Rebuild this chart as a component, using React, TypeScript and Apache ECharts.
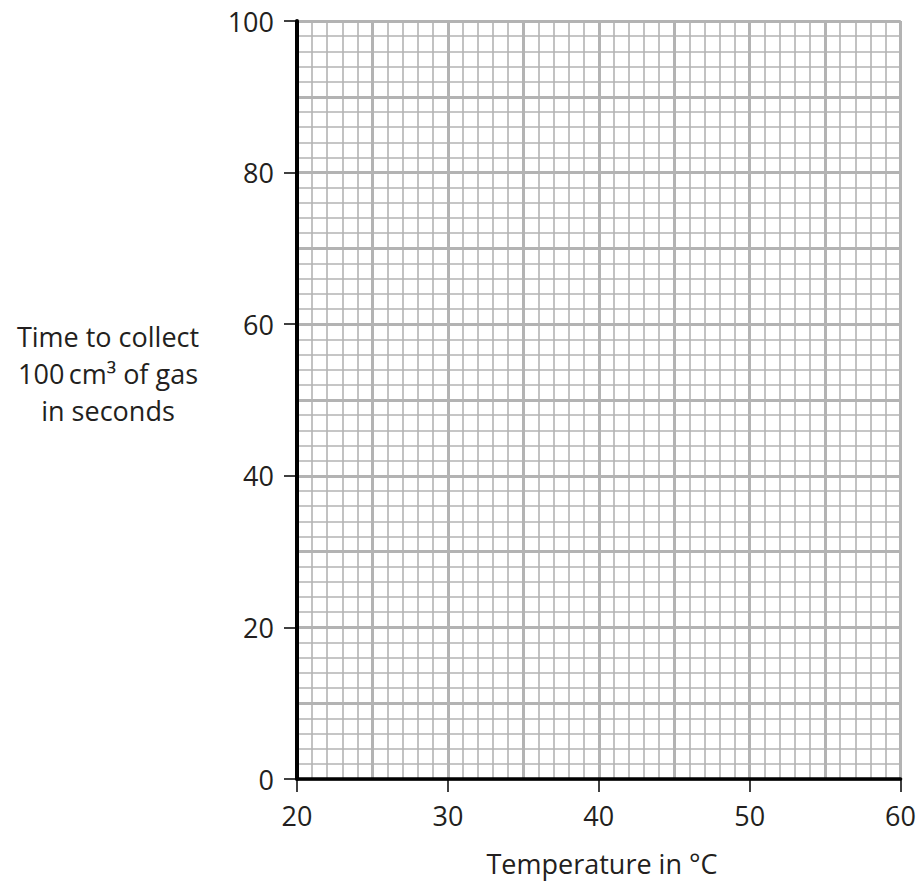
import React, { useEffect, useRef } from "react";
import * as echarts from "echarts";

const xRange = [20, 60];
const yRange = [0, 100];
const xMinorStep = 1;
const xMajorStep = 5;
const xLabelStep = 10;
const yMinorStep = 2;
const yMajorStep = 10;
const yLabelStep = 20;
const xTitle = "Temperature in °C";
const yTitleLines = ["Time to collect", "100\u2009cm³ of gas", "in seconds"];

const FONT = "Open Sans";
const TEXT = "#231f20";
const GRID = "#b3b3b3";
const FS = 27;

export default function App() {
  const ref = useRef<HTMLDivElement>(null);
  useEffect(() => {
    if (!ref.current) return;
    const chart = echarts.init(ref.current, null, { renderer: "svg" });
    const hidden = { show: false };
    const baseX = { type: "value", min: xRange[0], max: xRange[1], position: "bottom", gridIndex: 0 };
    const baseY = { type: "value", min: yRange[0], max: yRange[1], position: "left", gridIndex: 0 };
    chart.setOption({
      animation: false,
      grid: { left: 297, right: 18, top: 21, bottom: 108 },
      xAxis: [
        { ...baseX, interval: xMinorStep, axisLine: hidden, axisTick: hidden, axisLabel: hidden,
          splitLine: { show: true, lineStyle: { color: GRID, width: 1.6 } } },
        { ...baseX, interval: xMajorStep, axisLine: hidden, axisTick: hidden, axisLabel: hidden,
          splitLine: { show: true, lineStyle: { color: GRID, width: 3 } } },
        { ...baseX, interval: xLabelStep,
          axisLine: { show: true, lineStyle: { color: "#000", width: 3.5 } },
          axisTick: { show: true, length: 13, lineStyle: { color: "#000", width: 1.5 } },
          axisLabel: { show: true, fontFamily: FONT, fontSize: FS, color: TEXT, margin: 23 },
          splitLine: hidden },
      ],
      yAxis: [
        { ...baseY, interval: yMinorStep, axisLine: hidden, axisTick: hidden, axisLabel: hidden,
          splitLine: { show: true, lineStyle: { color: GRID, width: 1.6 } } },
        { ...baseY, interval: yMajorStep, axisLine: hidden, axisTick: hidden, axisLabel: hidden,
          splitLine: { show: true, lineStyle: { color: GRID, width: 3 } } },
        { ...baseY, interval: yLabelStep,
          axisLine: { show: true, lineStyle: { color: "#000", width: 4 } },
          axisTick: { show: true, length: 13, lineStyle: { color: "#000", width: 1.5 } },
          axisLabel: { show: true, fontFamily: FONT, fontSize: FS, color: TEXT, margin: 23 },
          splitLine: hidden },
      ],
      series: [
        { type: "scatter", xAxisIndex: 2, yAxisIndex: 2, data: [] },
      ],
      graphic: [
        {
          type: "text",
          x: 108,
          y: 373,
          style: {
            text: yTitleLines.join("\n"),
            fontFamily: FONT,
            fontSize: FS,
            lineHeight: 37,
            fill: TEXT,
            align: "center",
            verticalAlign: "middle",
          },
        },
        {
          type: "text",
          x: 602,
          y: 863,
          style: {
            text: xTitle,
            fontFamily: FONT,
            fontSize: FS,
            fill: TEXT,
            align: "center",
            verticalAlign: "middle",
          },
        },
      ],
    });
    return () => chart.dispose();
  }, []);
  return (
    <div
      ref={ref}
      style={{ position: "absolute", left: 0, top: 0, width: 919, height: 887 }}
    />
  );
}
